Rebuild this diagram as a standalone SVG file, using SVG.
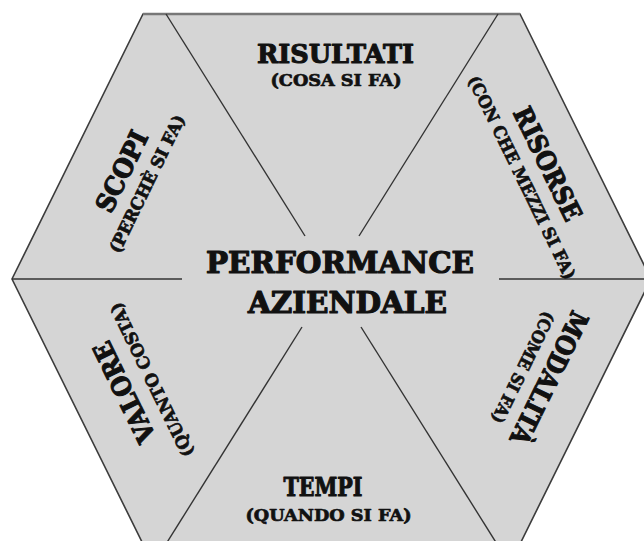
<svg xmlns="http://www.w3.org/2000/svg" width="644" height="541" viewBox="0 0 644 541">
<style>
.hex{fill:#d5d5d5;stroke:#3c3c3c;stroke-width:1.6}
.spoke{stroke:#333;stroke-width:1.4;fill:none}
.t{font-family:"DejaVu Serif","Liberation Serif",serif;font-weight:bold;fill:#111;stroke:#111;stroke-linejoin:round;text-anchor:middle}
.title{font-size:26px;stroke-width:1.1}
.sub{font-size:17px;stroke-width:0.7}
.big{font-size:29px;stroke-width:1.2}
</style>
<rect width="644" height="541" fill="#ffffff"/>
<g id="hexagon">
<path class="hex" d="M143,14 L520,14 L651,279 L520,544 L143,544 L12,279 Z"/>
<line x1="143" y1="14" x2="520" y2="14" stroke="#777" stroke-width="2.5"/>
</g>
<g id="connectors">
<line class="spoke" x1="166" y1="14" x2="305" y2="236"/>
<line class="spoke" x1="498" y1="14" x2="359" y2="236"/>
<line class="spoke" x1="12" y1="279" x2="182" y2="279"/>
<line class="spoke" x1="499" y1="279" x2="651" y2="279"/>
<line class="spoke" x1="302" y1="327" x2="166" y2="544"/>
<line class="spoke" x1="361" y1="327" x2="497" y2="544"/>
</g>
<g id="center">
<text class="t big" x="340" y="273" textLength="268" lengthAdjust="spacingAndGlyphs">PERFORMANCE</text>
<text class="t big" x="347.5" y="313" textLength="199" lengthAdjust="spacingAndGlyphs">AZIENDALE</text>
</g>
<g id="risultati">
<text class="t title" x="335.5" y="63" textLength="157" lengthAdjust="spacingAndGlyphs">RISULTATI</text>
<text class="t sub" x="336" y="86" textLength="131" lengthAdjust="spacingAndGlyphs">(COSA SI FA)</text>
</g>
<g id="tempi">
<text class="t title" x="323" y="496" textLength="79" lengthAdjust="spacingAndGlyphs">TEMPI</text>
<text class="t sub" x="328.5" y="521" textLength="166" lengthAdjust="spacingAndGlyphs">(QUANDO SI FA)</text>
</g>
<g id="scopi" transform="translate(121,171) rotate(-64)">
<text class="t title" x="0" y="10" textLength="87" lengthAdjust="spacingAndGlyphs">SCOPI</text>
<text class="t sub" x="0" y="35" textLength="151" lengthAdjust="spacingAndGlyphs">(PERCHÈ SI FA)</text>
</g>
<g id="risorse" transform="translate(548.5,163.5) rotate(64)">
<text class="t title" x="0" y="10" textLength="123" lengthAdjust="spacingAndGlyphs">RISORSE</text>
<text class="t sub" x="1" y="36" textLength="224" lengthAdjust="spacingAndGlyphs">(CON CHE MEZZI SI FA)</text>
</g>
<g id="valore" transform="translate(123.5,392.5) rotate(244)">
<text class="t title" x="0" y="10" textLength="109" lengthAdjust="spacingAndGlyphs">VALORE</text>
<text class="t sub" x="-1" y="37" textLength="169" lengthAdjust="spacingAndGlyphs">(QUANTO COSTA)</text>
</g>
<g id="modalita" transform="translate(550,378.5) rotate(116)">
<text class="t title" x="0" y="10" textLength="145" lengthAdjust="spacingAndGlyphs">MODALITÀ</text>
<text class="t sub" x="2" y="35" textLength="122" lengthAdjust="spacingAndGlyphs">(COME SI FA)</text>
</g>
</svg>
